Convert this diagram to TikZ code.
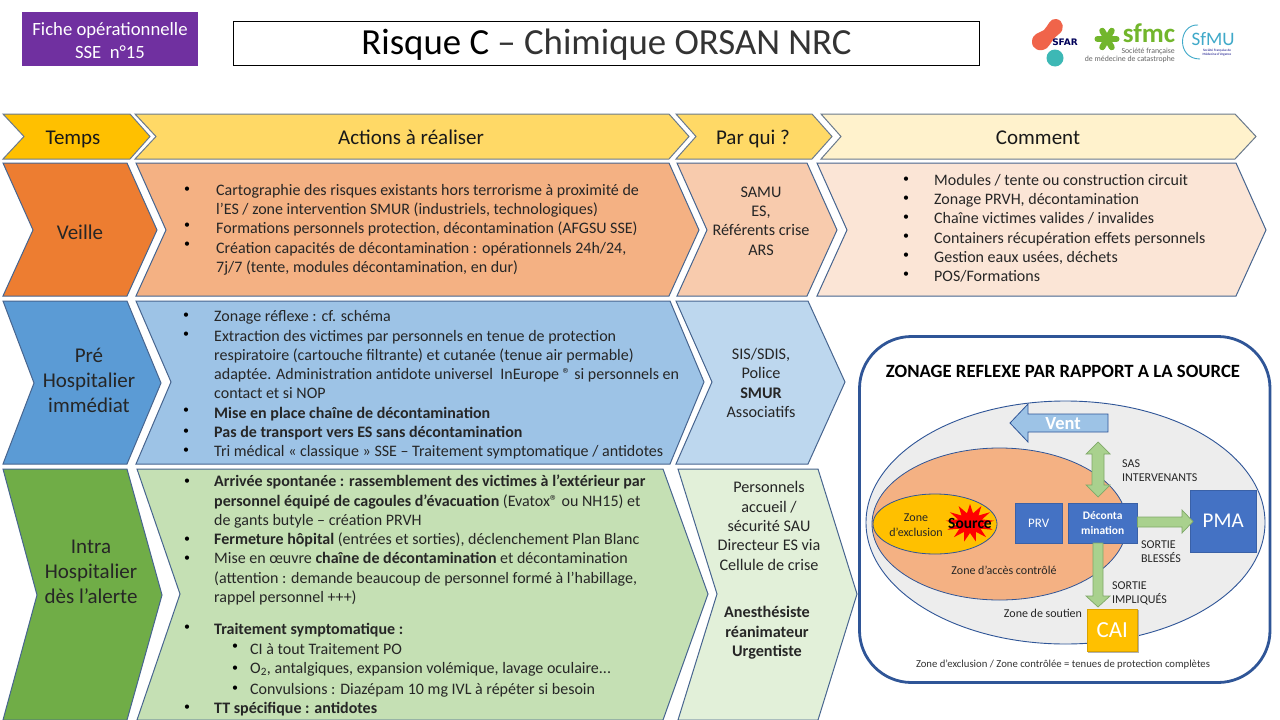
\documentclass[tikz,border=0pt]{standalone}
\usepackage{fontspec}
\setmainfont{Carlito}
\newfontfamily\logofont{DejaVu Sans}
\usetikzlibrary{shapes.geometric,shapes.misc}
\definecolor{edgeb}{HTML}{47658F}
\definecolor{edgeg}{HTML}{6B7A8C}
\definecolor{panelb}{HTML}{2F5597}
\definecolor{cfiche}{HTML}{7030A0}
\definecolor{cgold}{HTML}{FFC000}
\definecolor{cyel}{HTML}{FFD966}
\definecolor{ccream}{HTML}{FFF2CC}
\definecolor{cor1}{HTML}{ED7D31}
\definecolor{cor2}{HTML}{F4B183}
\definecolor{cor3}{HTML}{F8CBAD}
\definecolor{cor4}{HTML}{FBE5D6}
\definecolor{cbl1}{HTML}{5B9BD5}
\definecolor{cbl2}{HTML}{9DC3E6}
\definecolor{cbl3}{HTML}{BDD7EE}
\definecolor{cgr1}{HTML}{70AD47}
\definecolor{cgr2}{HTML}{C5E0B4}
\definecolor{cgr3}{HTML}{E2F0D9}
\definecolor{bxblue}{HTML}{4472C4}
\definecolor{garrowfill}{HTML}{A9D18E}
\definecolor{garrowline}{HTML}{7FA868}
\definecolor{zonegrey}{HTML}{EDEDED}
\definecolor{sfmcgreen}{HTML}{72B62C}
\definecolor{sfarred}{HTML}{F0644A}
\definecolor{sfarteal}{HTML}{3DB8B5}
\definecolor{sfmublue}{HTML}{3FA9C9}
\tikzset{
 chev/.style={draw=edgeb,line width=1pt,line join=miter},
 hchev/.style={draw=edgeg,line width=1pt,line join=miter},
 lab/.style={font=\fontsize{21}{25}\selectfont,align=center,text=black!85},
 body/.style={font=\fontsize{16}{19.25}\selectfont,align=left,anchor=north west,text=black!85,inner sep=0pt},
 who/.style={font=\fontsize{16.2}{19.4}\selectfont,align=center,text=black!85,inner sep=0pt},
 hdr/.style={font=\fontsize{21}{23}\selectfont,text=black!90,anchor=base,inner sep=0pt},
 small/.style={font=\fontsize{12}{14}\selectfont,align=left,text=black!85,inner sep=0pt},
 bluebox/.style={fill=bxblue,draw=bxblue!85!black,inner sep=0pt,text=white,anchor=north west},
 garrow/.style={draw=garrowline,fill=garrowfill,line width=0.7pt,line join=miter},
 bulletmark/.style={font=\fontsize{12}{12}\selectfont,anchor=center,inner sep=0pt,yshift=-1.8pt},
}
\newcommand{\bl}[2]{\node[bulletmark] at (#1,#2) {•};}
\begin{document}
\begin{tikzpicture}[x=1pt,y=-1pt]
\useasboundingbox (0,0) rectangle (1280,720);
\fill[white] (0,0) rectangle (1280,720);
% header
\node[fill=cfiche,draw=none,minimum width=176pt,minimum height=54pt,anchor=north west,inner sep=0pt] (fiche) at (22,12) {};
\node[text=white,align=center,inner sep=0pt,font=\fontsize{18.7}{23}\selectfont] (fichet) at (110,41) {Fiche opérationnelle\\SSE\ \ n°15};
\node[draw=black,line width=0.8pt,minimum width=746pt,minimum height=44pt,anchor=north west,inner sep=0pt,outer sep=0pt] (titre) at (233.5,21.5) {};
\node[inner sep=0pt,font=\fontsize{36.8}{38}\selectfont] (titret) at (606.5,45) {\textcolor{black}{Risque C} \textcolor{black!80}{– Chimique ORSAN NRC}};
% header chevrons
\filldraw[hchev,fill=cgold] (3,114)--(130,114)--(150,136.5)--(130,159)--(3,159)--(24,136.5)--cycle;
\node[hdr] (t1) at (73,144) {Temps};
\filldraw[hchev,fill=cyel] (135,114)--(669,114)--(689,136.5)--(669,159)--(135,159)--(156,136.5)--cycle;
\node[hdr] (t2) at (411,144) {Actions à réaliser};
\filldraw[hchev,fill=cyel] (676,114)--(812,114)--(832,136.5)--(812,159)--(676,159)--(696,136.5)--cycle;
\node[hdr] (t3) at (753,144) {Par qui ?};
\filldraw[hchev,fill=ccream] (821,114)--(1235,114)--(1256,136.5)--(1235,159)--(821,159)--(841,136.5)--cycle;
\node[hdr] (t4) at (1038,144) {Comment};
% row 1
\filldraw[chev,fill=cor1] (3,163)--(127,163)--(157,230)--(127,296)--(3,296)--(33,230)--cycle;
\node[lab] (v) at (80,232) {Veille};
\filldraw[chev,fill=cor2] (136,163)--(669,163)--(699,230)--(669,296)--(136,296)--(166,230)--cycle;
\filldraw[chev,fill=cor3] (677,163)--(807,163)--(837,230)--(807,296)--(677,296)--(707,230)--cycle;
\filldraw[chev,fill=cor4] (817,163)--(1236,163)--(1266,230)--(1236,296)--(817,296)--(847,230)--cycle;
\bl{187}{188}\bl{187}{224}\bl{187}{243}
\node[body] (a1) at (216,184) {Cartographie des risques existants hors terrorisme à proximité de\\l’ES / zone intervention SMUR (industriels, technologiques)\\Formations personnels protection, décontamination (AFGSU SSE)\\Création capacités de décontamination : opérationnels 24h/24,\\7j/7 (tente, modules décontamination, en dur)};
\node[who] (w1) at (761,221) {SAMU\\ES,\\Référents crise\\ARS};
\foreach \y in {178,197,216,235,254,273} {\bl{906}{\y}}
\node[body] (c1) at (934,174) {Modules / tente ou construction circuit\\Zonage PRVH, décontamination\\Chaîne victimes valides / invalides\\Containers récupération effets personnels\\Gestion eaux usées, déchets\\POS/Formations};
% row 2
\filldraw[chev,fill=cbl1] (3,301)--(127,301)--(161,383)--(127,464)--(3,464)--(34,383)--cycle;
\node[lab] (p) at (89,380) {Pré\\Hospitalier\\immédiat};
\filldraw[chev,fill=cbl2] (136,301)--(670,301)--(704,382)--(670,464)--(136,464)--(171,382)--cycle;
\filldraw[chev,fill=cbl3] (676,301)--(808,301)--(845,382)--(808,464)--(676,464)--(712,382)--cycle;
\foreach \y in {314,333,409,430,449} {\bl{186}{\y}}
\node[body] (a2) at (214,310.5) {Zonage réflexe : cf. schéma\\Extraction des victimes par personnels en tenue de protection\\respiratoire (cartouche filtrante) et cutanée (tenue air permable)\\adaptée. Administration antidote universel\ \ InEurope ® si personnels en\\contact et si NOP\\\textbf{Mise en place chaîne de décontamination}\\\textbf{Pas de transport vers ES sans décontamination}\\Tri médical « classique » SSE – Traitement symptomatique / antidotes};
\node[who] (w2) at (761,383) {SIS/SDIS,\\Police\\\textbf{SMUR}\\Associatifs};
% row 3
\filldraw[chev,fill=cgr1] (3,469)--(127,469)--(162,595)--(127,720)--(3,720)--(37,595)--cycle;
\node[lab] (i) at (91,572) {Intra\\Hospitalier\\dès l’alerte};
\filldraw[chev,fill=cgr2] (137,469)--(663,469)--(708,594)--(663,720)--(137,720)--(180,594)--cycle;
\filldraw[chev,fill=cgr3] (678,469)--(818,469)--(857,594)--(818,720)--(678,720)--(717,594)--cycle;
\foreach \y in {480,538,557,626,706} {\bl{187}{\y}}
\foreach \y in {645,667,687} {\bl{235}{\y}}
\node[body] (a3) at (214,475) {\textbf{Arrivée spontanée : rassemblement des victimes à l’extérieur par}\\\textbf{personnel équipé de cagoules d’évacuation} (Evatox® ou NH15) et\\de gants butyle – création PRVH\\\textbf{Fermeture hôpital} (entrées et sorties), déclenchement Plan Blanc\\Mise en œuvre \textbf{chaîne de décontamination} et décontamination\\(attention : demande beaucoup de personnel formé à l’habillage,\\rappel personnel +++)};
\node[body,anchor=west] (a4) at (214,630) {\textbf{Traitement symptomatique :}};
\node[body,anchor=west] (a5) at (250,649) {CI à tout Traitement PO};
\node[body,anchor=west] (a6) at (250,669) {O\textsubscript{2}, antalgiques, expansion volémique, lavage oculaire...};
\node[body,anchor=west] (a7) at (250,690) {Convulsions : Diazépam 10 mg IVL à répéter si besoin};
\node[body,anchor=west] (a8) at (214,709) {\textbf{TT spécifique : antidotes}};
\node[who] (w3) at (769,526) {Personnels\\accueil /\\sécurité SAU\\Directeur ES via\\Cellule de crise};
\node[who] (w4) at (767,633) {\textbf{Anesthésiste}\\\textbf{réanimateur}\\\textbf{Urgentiste}};
% panel
\draw[draw=panelb,line width=2.8pt,rounded corners=52pt,fill=white] (859.5,336.5) rectangle (1270,682.5);
\node[font=\bfseries\fontsize{18.7}{20}\selectfont] (zt) at (1063,371) {ZONAGE REFLEXE PAR RAPPORT A LA SOURCE};
\node[draw=panelb,line width=0.9pt,fill=zonegrey,ellipse,minimum width=399pt,minimum height=243pt,inner sep=0pt] (ou) at (1065.5,522.5) {};
\node[draw=panelb,line width=0.8pt,fill=cor2,ellipse,minimum width=255pt,minimum height=152pt,inner sep=0pt] (ac) at (999.5,524) {};
\node[draw=panelb,line width=0.8pt,fill=cgold,ellipse,minimum width=124pt,minimum height=60pt,inner sep=0pt] (ex) at (935,524) {};
\node[star,star points=13,star point ratio=1.9,fill=red,minimum size=38pt,inner sep=0pt,xscale=1.28] (st) at (970,523) {};
\node[font=\bfseries\fontsize{15.5}{15.5}\selectfont,text=black,inner sep=0pt] (src) at (970,523) {Source};
\node[small,align=center,font=\fontsize{12}{15}\selectfont] (zex) at (916,525) {Zone\\d’exclusion};
\node[small] (zac) at (1004,570) {Zone d’accès contrôlé};
\node[small] (zs) at (1043,613) {Zone de soutien};
% Vent
\filldraw[draw=panelb,line width=0.8pt,fill=cbl2] (1010,423)--(1028,404)--(1028,414)--(1108,414)--(1108,432)--(1028,432)--(1028,442)--cycle;
\node[text=white,font=\bfseries\fontsize{18.5}{19}\selectfont,inner sep=0pt] (ventl) at (1063,424) {Vent};
% boxes
\node[bluebox,minimum width=47pt,minimum height=40pt,font=\fontsize{13}{15}\selectfont] (prv) at (1015,503) {PRV};
\node[bluebox,minimum width=69pt,minimum height=40pt,align=center,font=\bfseries\fontsize{11.5}{15}\selectfont] (deco) at (1068,503) {Déconta\\mination};
\node[bluebox,minimum width=66pt,minimum height=62pt,font=\fontsize{21}{23}\selectfont] (pma) at (1190,490) {PMA};
% arrows
\draw[garrow] (1098,442)--(1110,454)--(1104,454)--(1104,485)--(1110,485)--(1098,497)--(1086,485)--(1092,485)--(1092,454)--(1086,454)--cycle;
\draw[garrow] (deco.east |- 0,517)--(1182,517)--(1182,510)--(1193,521.5)--(1182,533)--(1182,527)--(deco.east |- 0,527)--cycle;
\draw[garrow] (1093,543)--(1103,543)--(1103,596)--(1110,596)--(1098,607)--(1086,596)--(1093,596)--cycle;
\node[small,anchor=west] (l1) at (1122,471) {SAS\\INTERVENANTS};
\node[small,anchor=west] (l2) at (1141,552) {SORTIE\\BLESSÉS};
\node[small,anchor=west] (l3) at (1112,593) {SORTIE\\IMPLIQUÉS};
\fill[black!30] (1088,610) rectangle (1138.5,652.5);
\node[fill=cgold,draw=cgold!85!black,minimum width=50pt,minimum height=42pt,inner sep=0pt,anchor=north west,text=white,font=\fontsize{23}{25}\selectfont] (cai) at (1087,609) {CAI};
\node[font=\fontsize{10.7}{12}\selectfont,text=black!80,inner sep=0pt] (foot) at (1063,664.5) {Zone d’exclusion / Zone contrôlée = tenues de protection complètes};
% logos
\fill[sfarred] (1032,42) .. controls (1032,33) and (1040,33) .. (1044,30) .. controls (1048,26) and (1050,18) .. (1056,19) .. controls (1064,20) and (1065,30) .. (1059,34) .. controls (1053,38) and (1051,44) .. (1047,48) .. controls (1040,53) and (1032,49) .. (1032,42) -- cycle;
\fill[sfarteal] (1055,58) circle (8.5);
\node[font=\logofont\bfseries\fontsize{9}{9}\selectfont,text=blue!35!black,inner sep=0pt] (sfar) at (1065,42.5) {SFAR};
\foreach \a in {0,60,120} {\draw[sfmcgreen,line width=6pt,line cap=round] ([shift={(\a:9.5)}]1107,39)--([shift={(\a+180:9.5)}]1107,39);}
\node[font=\bfseries\fontsize{27}{27}\selectfont,text=sfmcgreen,inner sep=0pt] (sfmc) at (1149,33.5) {sfmc};
\node[font=\fontsize{7.8}{8}\selectfont,align=right,text=black!60,inner sep=0pt,anchor=north east] (sfmc2) at (1175,48) {Société française\\de médecine de catastrophe};
\draw[sfmublue,line width=0.9pt] (1198,25) .. controls (1178,24) and (1176,59) .. (1200,59);
\node[font=\fontsize{19}{19}\selectfont,text=sfmublue,inner sep=0pt] (sfmu) at (1213,39) {SfMU};
\node[font=\fontsize{3.4}{3.8}\selectfont,align=center,text=blue!50!black,inner sep=0pt] (sfmu2) at (1217,53) {Société Française de\\Médecine d’Urgence};
\end{tikzpicture}
\end{document}
